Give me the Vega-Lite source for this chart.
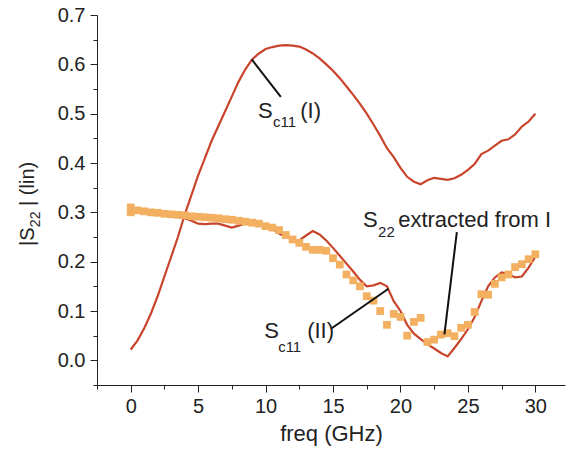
{
  "$schema": "https://vega.github.io/schema/vega-lite/v6.json",
  "width": 468,
  "height": 370,
  "autosize": "none",
  "padding": {"left": 97, "top": 15, "right": 9, "bottom": 72},
  "background": "white",
  "config": {
    "view": {"stroke": null},
    "font": "Liberation Sans",
    "axis": {"domainColor": "#222", "tickColor": "#222", "labelColor": "#222", "titleColor": "#222", "grid": false, "labelFont": "Liberation Sans", "titleFont": "Liberation Sans", "titleFontWeight": "normal"}
  },
  "datasets": {
    "sc11I": [
      {"f": 0.0, "v": 0.022}, {"f": 0.5, "v": 0.04}, {"f": 1.0, "v": 0.065}, {"f": 1.5, "v": 0.095},
      {"f": 2.0, "v": 0.13}, {"f": 2.5, "v": 0.17}, {"f": 3.0, "v": 0.21}, {"f": 3.5, "v": 0.25},
      {"f": 4.0, "v": 0.295}, {"f": 4.5, "v": 0.335}, {"f": 5.0, "v": 0.375}, {"f": 5.5, "v": 0.41},
      {"f": 6.0, "v": 0.445}, {"f": 6.5, "v": 0.475}, {"f": 7.0, "v": 0.505}, {"f": 7.5, "v": 0.535},
      {"f": 8.0, "v": 0.565}, {"f": 8.5, "v": 0.59}, {"f": 9.0, "v": 0.61}, {"f": 9.5, "v": 0.622},
      {"f": 10.0, "v": 0.631}, {"f": 10.5, "v": 0.635}, {"f": 11.0, "v": 0.638}, {"f": 11.5, "v": 0.639},
      {"f": 12.0, "v": 0.638}, {"f": 12.5, "v": 0.636}, {"f": 13.0, "v": 0.63}, {"f": 13.5, "v": 0.622},
      {"f": 14.0, "v": 0.612}, {"f": 14.5, "v": 0.6}, {"f": 15.0, "v": 0.587}, {"f": 15.5, "v": 0.572},
      {"f": 16.0, "v": 0.555}, {"f": 16.5, "v": 0.538}, {"f": 17.0, "v": 0.52}, {"f": 17.5, "v": 0.5},
      {"f": 18.0, "v": 0.478}, {"f": 18.5, "v": 0.455}, {"f": 19.0, "v": 0.43}, {"f": 19.5, "v": 0.412},
      {"f": 20.0, "v": 0.39}, {"f": 20.5, "v": 0.372}, {"f": 21.0, "v": 0.362}, {"f": 21.5, "v": 0.357},
      {"f": 22.0, "v": 0.365}, {"f": 22.5, "v": 0.37}, {"f": 23.0, "v": 0.368}, {"f": 23.5, "v": 0.366},
      {"f": 24.0, "v": 0.369}, {"f": 24.5, "v": 0.376}, {"f": 25.0, "v": 0.386}, {"f": 25.5, "v": 0.398},
      {"f": 26.0, "v": 0.418}, {"f": 26.5, "v": 0.425}, {"f": 27.0, "v": 0.435}, {"f": 27.5, "v": 0.445},
      {"f": 28.0, "v": 0.448}, {"f": 28.5, "v": 0.458}, {"f": 29.0, "v": 0.474}, {"f": 29.5, "v": 0.484},
      {"f": 30.0, "v": 0.5}
    ],
    "sc11II": [
      {"f": 0.0, "v": 0.305}, {"f": 0.5, "v": 0.302}, {"f": 1.0, "v": 0.3}, {"f": 1.5, "v": 0.298},
      {"f": 2.0, "v": 0.296}, {"f": 2.5, "v": 0.294}, {"f": 3.0, "v": 0.292}, {"f": 3.5, "v": 0.29},
      {"f": 4.0, "v": 0.288}, {"f": 4.5, "v": 0.283}, {"f": 5.0, "v": 0.277}, {"f": 5.5, "v": 0.276},
      {"f": 6.0, "v": 0.277}, {"f": 6.5, "v": 0.277}, {"f": 7.0, "v": 0.273}, {"f": 7.5, "v": 0.269},
      {"f": 8.0, "v": 0.273}, {"f": 8.5, "v": 0.277}, {"f": 9.0, "v": 0.278}, {"f": 9.5, "v": 0.277},
      {"f": 10.0, "v": 0.273}, {"f": 10.5, "v": 0.266}, {"f": 11.0, "v": 0.257}, {"f": 11.5, "v": 0.25},
      {"f": 12.0, "v": 0.245}, {"f": 12.5, "v": 0.243}, {"f": 13.0, "v": 0.253}, {"f": 13.5, "v": 0.262},
      {"f": 14.0, "v": 0.255}, {"f": 14.5, "v": 0.243}, {"f": 15.0, "v": 0.228}, {"f": 15.5, "v": 0.212},
      {"f": 16.0, "v": 0.196}, {"f": 16.5, "v": 0.18}, {"f": 17.0, "v": 0.163}, {"f": 17.5, "v": 0.15},
      {"f": 18.0, "v": 0.152}, {"f": 18.5, "v": 0.157}, {"f": 19.0, "v": 0.15}, {"f": 19.5, "v": 0.12},
      {"f": 20.0, "v": 0.1}, {"f": 20.5, "v": 0.072}, {"f": 21.0, "v": 0.054}, {"f": 21.5, "v": 0.043},
      {"f": 22.0, "v": 0.033}, {"f": 22.5, "v": 0.024}, {"f": 23.0, "v": 0.015}, {"f": 23.5, "v": 0.008},
      {"f": 24.0, "v": 0.025}, {"f": 24.5, "v": 0.043}, {"f": 25.0, "v": 0.063}, {"f": 25.5, "v": 0.088},
      {"f": 26.0, "v": 0.12}, {"f": 26.5, "v": 0.15}, {"f": 27.0, "v": 0.168}, {"f": 27.5, "v": 0.178},
      {"f": 28.0, "v": 0.175}, {"f": 28.5, "v": 0.168}, {"f": 29.0, "v": 0.17}, {"f": 29.5, "v": 0.188},
      {"f": 30.0, "v": 0.21}
    ],
    "s22": [
      {"f": 0.0, "v": 0.31}, {"f": 0.0, "v": 0.3}, {"f": 0.5, "v": 0.304}, {"f": 1.0, "v": 0.302},
      {"f": 1.5, "v": 0.3}, {"f": 2.0, "v": 0.299}, {"f": 2.5, "v": 0.297}, {"f": 3.0, "v": 0.296},
      {"f": 3.5, "v": 0.295}, {"f": 4.0, "v": 0.294}, {"f": 4.5, "v": 0.292}, {"f": 5.0, "v": 0.291},
      {"f": 5.5, "v": 0.29}, {"f": 6.0, "v": 0.289}, {"f": 6.5, "v": 0.288}, {"f": 7.0, "v": 0.286},
      {"f": 7.5, "v": 0.285}, {"f": 8.0, "v": 0.283}, {"f": 8.5, "v": 0.281}, {"f": 9.0, "v": 0.279},
      {"f": 9.5, "v": 0.277}, {"f": 10.0, "v": 0.272}, {"f": 10.5, "v": 0.269}, {"f": 11.0, "v": 0.264},
      {"f": 11.5, "v": 0.254}, {"f": 12.0, "v": 0.245}, {"f": 12.5, "v": 0.238}, {"f": 13.0, "v": 0.23},
      {"f": 13.5, "v": 0.224}, {"f": 14.0, "v": 0.224}, {"f": 14.5, "v": 0.222}, {"f": 15.0, "v": 0.207},
      {"f": 15.5, "v": 0.194}, {"f": 16.0, "v": 0.174}, {"f": 16.5, "v": 0.162}, {"f": 17.0, "v": 0.15},
      {"f": 17.5, "v": 0.13}, {"f": 18.0, "v": 0.121}, {"f": 18.5, "v": 0.1}, {"f": 19.0, "v": 0.072},
      {"f": 19.5, "v": 0.094}, {"f": 20.0, "v": 0.088}, {"f": 20.5, "v": 0.05}, {"f": 21.0, "v": 0.078},
      {"f": 21.5, "v": 0.086}, {"f": 22.0, "v": 0.037}, {"f": 22.5, "v": 0.042}, {"f": 23.0, "v": 0.052},
      {"f": 23.5, "v": 0.055}, {"f": 24.0, "v": 0.049}, {"f": 24.5, "v": 0.066}, {"f": 25.0, "v": 0.072},
      {"f": 25.5, "v": 0.098}, {"f": 26.0, "v": 0.134}, {"f": 26.5, "v": 0.133}, {"f": 27.0, "v": 0.155},
      {"f": 27.5, "v": 0.168}, {"f": 28.0, "v": 0.174}, {"f": 28.5, "v": 0.189}, {"f": 29.0, "v": 0.195},
      {"f": 29.5, "v": 0.205}, {"f": 30.0, "v": 0.215}
    ],
    "leaders": [
      {"f": 8.97, "v": 0.61, "f2": 11.13, "v2": 0.534},
      {"f": 14.85, "v": 0.064, "f2": 19.11, "v2": 0.145},
      {"f": 24.18, "v": 0.26, "f2": 23.26, "v2": 0.0527}
    ],
    "bigText": [
      {"f": 9.44, "v": 0.491, "t": "S"},
      {"f": 12.57, "v": 0.491, "t": "(I)"},
      {"f": 9.9, "v": 0.0446, "t": "S"},
      {"f": 13.08, "v": 0.0446, "t": "(II)"},
      {"f": 17.23, "v": 0.27, "t": "S"},
      {"f": 19.83, "v": 0.27, "t": "extracted from I"}
    ],
    "subText": [
      {"f": 10.55, "v": 0.473, "t": "c11"},
      {"f": 10.93, "v": 0.016, "t": "c11"},
      {"f": 18.34, "v": 0.2495, "t": "22"}
    ],
    "yTitle": [
      {"f": -7.2, "v": 0.232, "t": "|S"},
      {"f": -7.2, "v": 0.313, "t": "| (lin)"}
    ],
    "yTitleSub": [
      {"f": -6.75, "v": 0.27, "t": "22"}
    ]
  },
  "encoding": {
    "x": {"field": "f", "type": "quantitative", "scale": {"domain": [-2.5, 32.2], "nice": false, "zero": false}},
    "y": {"field": "v", "type": "quantitative", "scale": {"domain": [-0.05, 0.7], "nice": false, "zero": false}}
  },
  "resolve": {"axis": {"x": "independent", "y": "independent"}},
  "layer": [
    {
      "data": {"name": "sc11I"},
      "mark": {"type": "line", "color": "#C8452C", "strokeWidth": 2.2},
      "encoding": {
        "x": {"field": "f", "type": "quantitative", "axis": {"values": [0, 5, 10, 15, 20, 25, 30], "tickSize": 7, "labelFontSize": 20, "labelPadding": 4, "title": "freq (GHz)", "titleFontSize": 22, "titlePadding": 7, "orient": "bottom"}},
        "y": {"field": "v", "type": "quantitative", "axis": {"values": [0, 0.1, 0.2, 0.3, 0.4, 0.5, 0.6, 0.7], "format": ".1f", "tickSize": 7, "labelFontSize": 20, "labelPadding": 5, "title": null, "orient": "left"}}
      }
    },
    {
      "data": {"name": "sc11II"},
      "mark": {"type": "line", "color": "#C8452C", "strokeWidth": 2.2},
      "encoding": {
        "x": {"field": "f", "type": "quantitative", "axis": {"values": [-2.5, 2.5, 7.5, 12.5, 17.5, 22.5, 27.5], "tickSize": 4, "labels": false, "domain": false, "title": null, "orient": "bottom"}},
        "y": {"field": "v", "type": "quantitative", "axis": {"values": [-0.05, 0.05, 0.15, 0.25, 0.35, 0.45, 0.55, 0.65], "tickSize": 4, "labels": false, "domain": false, "title": null, "orient": "left"}}
      }
    },
    {
      "data": {"name": "s22"},
      "mark": {"type": "square", "color": "#F2B060", "opacity": 1, "filled": true, "size": 60},
      "encoding": {
        "x": {"field": "f", "type": "quantitative", "axis": null},
        "y": {"field": "v", "type": "quantitative", "axis": null}
      }
    },
    {
      "data": {"name": "leaders"},
      "mark": {"type": "rule", "color": "#111", "strokeWidth": 2},
      "encoding": {
        "x": {"field": "f", "type": "quantitative", "axis": null},
        "y": {"field": "v", "type": "quantitative", "axis": null},
        "x2": {"field": "f2"},
        "y2": {"field": "v2"}
      }
    },
    {
      "data": {"name": "bigText"},
      "mark": {"type": "text", "align": "left", "baseline": "alphabetic", "fontSize": 22, "color": "#222"},
      "encoding": {
        "x": {"field": "f", "type": "quantitative", "axis": null},
        "y": {"field": "v", "type": "quantitative", "axis": null},
        "text": {"field": "t"}
      }
    },
    {
      "data": {"name": "subText"},
      "mark": {"type": "text", "align": "left", "baseline": "alphabetic", "fontSize": 15, "color": "#222"},
      "encoding": {
        "x": {"field": "f", "type": "quantitative", "axis": null},
        "y": {"field": "v", "type": "quantitative", "axis": null},
        "text": {"field": "t"}
      }
    },
    {
      "data": {"name": "yTitle"},
      "mark": {"type": "text", "align": "left", "baseline": "alphabetic", "fontSize": 20, "angle": 270, "color": "#222"},
      "encoding": {
        "x": {"field": "f", "type": "quantitative", "axis": null},
        "y": {"field": "v", "type": "quantitative", "axis": null},
        "text": {"field": "t"}
      }
    },
    {
      "data": {"name": "yTitleSub"},
      "mark": {"type": "text", "align": "left", "baseline": "alphabetic", "fontSize": 14, "angle": 270, "color": "#222"},
      "encoding": {
        "x": {"field": "f", "type": "quantitative", "axis": null},
        "y": {"field": "v", "type": "quantitative", "axis": null},
        "text": {"field": "t"}
      }
    }
  ]
}
